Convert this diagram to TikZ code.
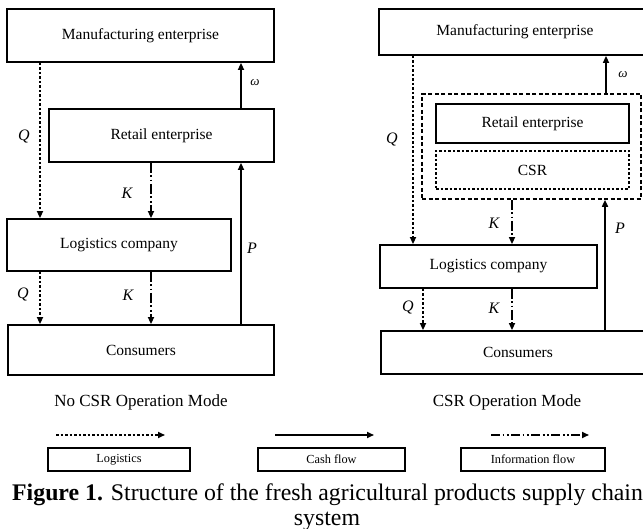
\documentclass[tikz,border=0pt]{standalone}
\usepackage{fontspec}
\setmainfont{Liberation Serif}
\usetikzlibrary{arrows.meta}
\begin{document}
\begin{tikzpicture}[x=1pt,y=-1pt,
  box/.style={draw, line width=1.8pt, inner sep=0pt, font=\fontsize{15.5}{18}\selectfont},
  tip/.style={-{Triangle[length=7pt,width=6pt]}},
  logi/.style={tip, line width=1.6pt, dash pattern=on 2.5pt off 2pt},
  cash/.style={tip, line width=1.6pt},
  info/.style={tip, line width=1.6pt, dash pattern=on 10pt off 2.5pt on 1.8pt off 2.5pt on 1.8pt off 2.5pt},
  lab/.style={font=\fontsize{16}{18}\selectfont\itshape, inner sep=0pt},
  dbox/.style={draw, line width=1.6pt, dash pattern=on 4pt off 2.5pt, inner sep=0pt},
  dotbox/.style={draw, line width=1.6pt, dash pattern=on 2.5pt off 2pt, inner sep=0pt, font=\fontsize{15.5}{18}\selectfont},
  legbox/.style={draw, line width=1.6pt, inner sep=0pt, minimum height=23pt, font=\fontsize{12.3}{14}\selectfont},
  mode/.style={font=\fontsize{17}{20}\selectfont, inner sep=0pt}
]
\useasboundingbox (0,0) rectangle (643,529);
\clip (0,0) rectangle (643,529);

% ---------- left panel ----------
\node[box, minimum width=267pt, minimum height=53pt] (manL) at (140.5,35.5) {Manufacturing enterprise};
\node[box, minimum width=225pt, minimum height=53pt] (retL) at (161.5,135.5) {Retail enterprise};
\node[box, minimum width=224pt, minimum height=52pt] (logL) at (119,245) {Logistics company};
\node[box, minimum width=266pt, minimum height=50pt] (conL) at (141,350) {Consumers};

\coordinate (xqL) at (40,0);
\coordinate (xkL) at (151,0);
\coordinate (xpL) at (241,0);

\draw[logi] (manL.south -| xqL) -- (logL.north -| xqL);
\draw[cash] (retL.north -| xpL) -- (manL.south -| xpL);
\draw[info] (retL.south -| xkL) -- (logL.north -| xkL);
\draw[cash] (conL.north -| xpL) -- (retL.south -| xpL);
\draw[logi] (logL.south -| xqL) -- (conL.north -| xqL);
\draw[info] (logL.south -| xkL) -- (conL.north -| xkL);

\node[lab] (lqL1) at (24,137) {Q};
\node[lab, font=\fontsize{13}{15}\selectfont\itshape] (lwL) at (255,83) {ω};
\node[lab] (lkL1) at (127,193) {K};
\node[lab] (lpL) at (252,248) {P};
\node[lab] (lqL2) at (23,295) {Q};
\node[lab] (lkL2) at (128,295) {K};

% ---------- right panel ----------
\node[box, minimum width=276pt, minimum height=46pt] (manR) at (517,32) {\hspace*{-2pt}Manufacturing enterprise\hspace*{2pt}};
\node[dbox, minimum width=219pt, minimum height=105pt] (outer) at (531.5,146.5) {};
\node[box, minimum width=193pt, minimum height=39pt] (retR) at (532.5,123.5) {Retail enterprise};
\node[dotbox, minimum width=193pt, minimum height=38pt] (csr) at (532.5,170) {CSR};
\node[box, minimum width=217pt, minimum height=43pt] (logR) at (488.5,266.5) {Logistics company};
\node[box, minimum width=274pt, minimum height=43pt] (conR) at (518,352.5) {Consumers};

\coordinate (xqR) at (413,0);
\coordinate (xqR2) at (423,0);
\coordinate (xkR) at (512,0);
\coordinate (xwR) at (606,0);
\coordinate (xpR) at (605,0);

\draw[logi] (manR.south -| xqR) -- (logR.north -| xqR);
\draw[cash] (outer.north -| xwR) -- (manR.south -| xwR);
\draw[info] (outer.south -| xkR) -- (logR.north -| xkR);
\draw[cash] (conR.north -| xpR) -- (outer.south -| xpR);
\draw[logi] (logR.south -| xqR2) -- (conR.north -| xqR2);
\draw[info] (logR.south -| xkR) -- (conR.north -| xkR);

\node[lab] (lqR1) at (392,140) {Q};
\node[lab, font=\fontsize{13}{15}\selectfont\itshape] (lwR) at (623,75) {ω};
\node[lab] (lkR1) at (494,223) {K};
\node[lab] (lpR) at (620,228) {P};
\node[lab] (lqR2) at (408,308) {Q};
\node[lab] (lkR2) at (494,308) {K};

% ---------- mode titles ----------
\node[mode] (modeL) at (141,402) {No CSR Operation Mode};
\node[mode] (modeR) at (507,402) {CSR Operation Mode};

% ---------- legend ----------
\coordinate (la1) at (56,435);  \coordinate (la2) at (165,435);
\coordinate (ca1) at (275,435); \coordinate (ca2) at (374,435);
\coordinate (ia1) at (491,435); \coordinate (ia2) at (589,435);
\draw[logi] (la1) -- (la2);
\draw[cash] (ca1) -- (ca2);
\draw[info, dash pattern=on 9pt off 2.5pt on 1.8pt off 2.5pt on 1.8pt off 2.5pt] (ia1) -- (ia2);
\node[legbox, minimum width=142pt] (legLog) at (119,459.5) {Logistics};
\node[legbox, minimum width=147pt] (legCash) at (331.5,459.5) {Cash flow};
\node[legbox, minimum width=144pt] (legInfo) at (533,459.5) {Information flow};

% ---------- caption ----------
\node[anchor=base west, inner sep=0pt, font=\fontsize{23.8}{26}\selectfont] (cap1) at (12,500) {\textbf{Figure 1.} Structure of the fresh agricultural products supply chain};
\node[anchor=base, inner sep=0pt, font=\fontsize{23.8}{26}\selectfont] (cap2) at (327,525) {system};
\end{tikzpicture}
\end{document}
